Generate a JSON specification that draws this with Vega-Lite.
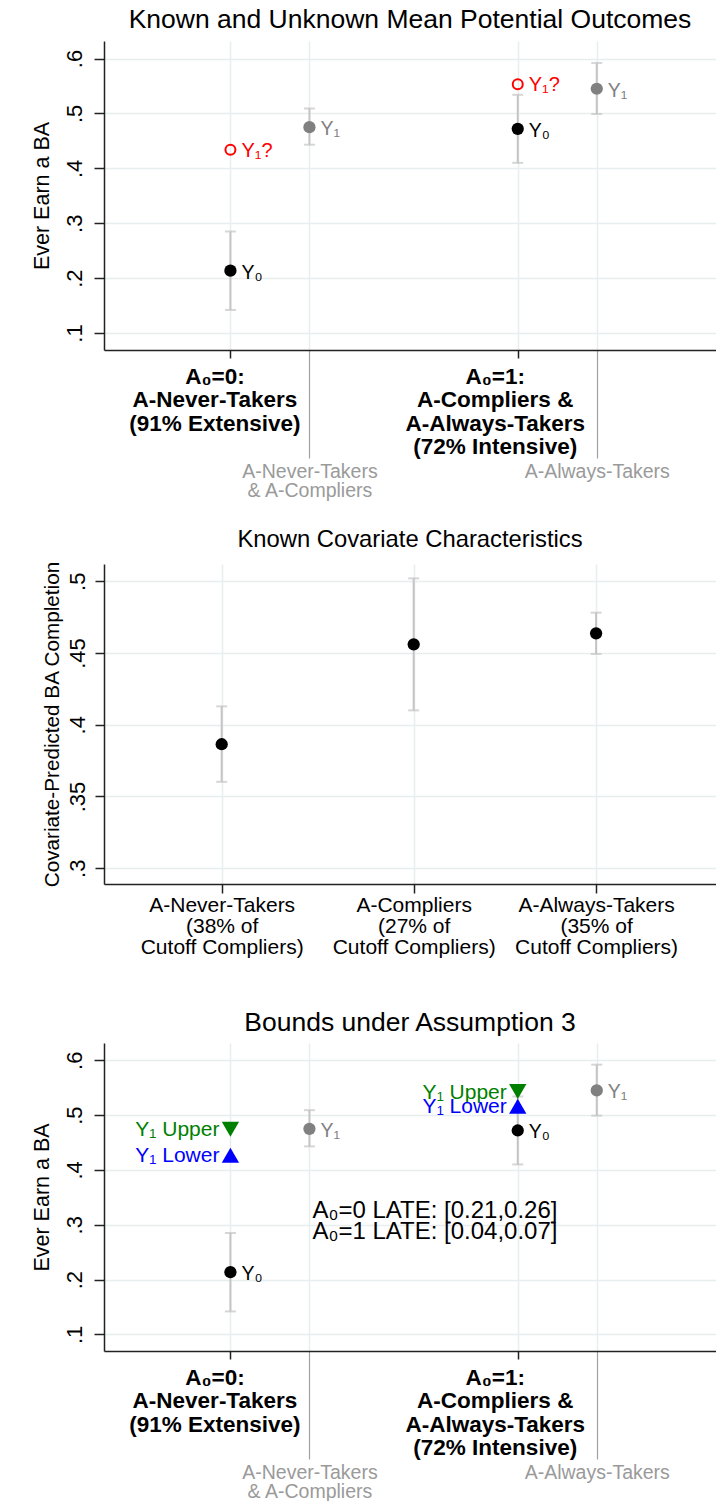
{
  "$schema": "https://vega.github.io/schema/vega-lite/v6.json",
  "background": "white",
  "padding": {"left": 31, "top": 6, "right": 0, "bottom": 0},
  "spacing": 27,
  "config": {
    "font": "Liberation Sans",
    "view": {"stroke": null},
    "axis": {
      "domainColor": "#222222", "domainWidth": 1.5,
      "tickColor": "#222222", "tickWidth": 1.5,
      "gridColor": "#e6eef0", "gridWidth": 1.5,
      "labelFont": "Liberation Sans", "titleFont": "Liberation Sans",
      "labelColor": "#000000", "titleColor": "#000000", "titleFontWeight": "normal",
      "labelOverlap": false, "labelFlush": false
    },
    "axisY": {
      "labelAngle": -90, "labelAlign": "center", "labelBaseline": "alphabetic",
      "labelFontSize": 22, "tickSize": 10, "labelPadding": 13,
      "titleFontSize": 21.5, "titlePadding": 10
    },
    "title": {"font": "Liberation Sans", "fontWeight": "normal", "color": "#000000", "frame": "group", "anchor": "middle", "baseline": "alphabetic"}
  },
  "datasets": {
    "known": [
      {"x": 0, "y": 0.2135, "lo": 0.142, "hi": 0.285, "series": "Y0", "label": "Y₀"},
      {"x": 0.275, "y": 0.475, "lo": 0.443, "hi": 0.509, "series": "Y1", "label": "Y₁"},
      {"x": 1, "y": 0.472, "lo": 0.410, "hi": 0.534, "series": "Y0", "label": "Y₀"},
      {"x": 1.275, "y": 0.545, "lo": 0.499, "hi": 0.592, "series": "Y1", "label": "Y₁"}
    ],
    "unknown": [
      {"x": 0, "y": 0.434, "label": "Y₁?"},
      {"x": 1, "y": 0.553, "label": "Y₁?"}
    ],
    "covariate": [
      {"x": 0, "y": 0.3864, "lo": 0.3602, "hi": 0.4128},
      {"x": 1, "y": 0.456, "lo": 0.410, "hi": 0.502},
      {"x": 1.95, "y": 0.4637, "lo": 0.4493, "hi": 0.4781}
    ],
    "bounds": [
      {"x": 0, "y": 0.474, "series": "Upper", "label": "Y₁ Upper"},
      {"x": 0, "y": 0.427, "series": "Lower", "label": "Y₁ Lower"},
      {"x": 1, "y": 0.543, "series": "Upper", "label": "Y₁ Upper"},
      {"x": 1, "y": 0.516, "series": "Lower", "label": "Y₁ Lower"}
    ],
    "late": [
      {"x": 0.275, "y": 0.325, "text": "A₀=0 LATE: [0.21,0.26]\nA₀=1 LATE: [0.04,0.07]"}
    ]
  },
  "vconcat": [
    {
      "width": 612, "height": 309,
      "title": {"text": "Known and Unknown Mean Potential Outcomes", "fontSize": 26.5, "offset": 8},
      "layer": [
        {
          "data": {"name": "known"},
          "mark": {"type": "errorbar", "ticks": {"size": 11}, "thickness": 2, "color": "#c4c4c4"},
          "encoding": {
            "x": {"field": "x", "type": "quantitative", "title": null, "scale": {"domain": [-0.44, 1.69], "nice": false, "zero": false},
              "axis": {
                "values": [0, 0.275, 1, 1.275], "grid": true, "title": null,
                "labelExpr": "datum.value == 0 ? ['A₀=0:', 'A-Never-Takers', '(91% Extensive)'] : datum.value == 1 ? ['A₀=1:', 'A-Compliers &', 'A-Always-Takers', '(72% Intensive)'] : datum.value < 0.5 ? ['A-Never-Takers', '& A-Compliers'] : ['A-Always-Takers']",
                "tickSize": {"condition": {"test": "datum.value == 0 || datum.value == 1", "value": 8}, "value": 108},
                "tickColor": {"condition": {"test": "datum.value == 0 || datum.value == 1", "value": "#222222"}, "value": "#a0a0a0"},
                "tickWidth": {"condition": {"test": "datum.value == 0 || datum.value == 1", "value": 1.5}, "value": 1.2},
                "labelColor": {"condition": {"test": "datum.value == 0 || datum.value == 1", "value": "#000000"}, "value": "#9a9a9a"},
                "labelFontWeight": {"condition": {"test": "datum.value == 0 || datum.value == 1", "value": "bold"}, "value": "normal"},
                "labelFontSize": {"condition": {"test": "datum.value == 0 || datum.value == 1", "value": 22.5}, "value": 19.5},
                "labelLineHeight": {"expr": "datum.value == 0 || datum.value == 1 ? 23.5 : 19"},
                "labelOffset": {"expr": "datum.value == 0 ? -16 : datum.value == 1 ? -23 : 0"},
                "labelPadding": {"condition": {"test": "datum.value == 0 || datum.value == 1", "value": 7}, "value": 4}
              }},
            "y": {"field": "lo", "type": "quantitative", "title": "Ever Earn a BA", "scale": {"domain": [0.069, 0.632], "nice": false, "zero": false},
              "axis": {"values": [0.1, 0.2, 0.3, 0.4, 0.5, 0.6], "grid": true, "labelExpr": "replace(format(datum.value, '~g'), '0.', '.')"}},
            "y2": {"field": "hi"}
          }
        },
        {
          "data": {"name": "known"},
          "mark": {"type": "point", "filled": true, "size": 150, "opacity": 1},
          "encoding": {
            "x": {"field": "x", "type": "quantitative", "title": null},
            "y": {"field": "y", "type": "quantitative", "title": "Ever Earn a BA"},
            "color": {"field": "series", "type": "nominal", "scale": {"domain": ["Y0", "Y1", "Upper", "Lower"], "range": ["#000000", "#808080", "#008000", "#0000ff"]}, "legend": null}
          }
        },
        {
          "data": {"name": "known"},
          "mark": {"type": "text", "align": "left", "baseline": "middle", "dx": 11, "dy": 2, "fontSize": 19.5},
          "encoding": {
            "x": {"field": "x", "type": "quantitative", "title": null},
            "y": {"field": "y", "type": "quantitative", "title": "Ever Earn a BA"},
            "text": {"field": "label"},
            "color": {"field": "series", "type": "nominal", "scale": {"domain": ["Y0", "Y1", "Upper", "Lower"], "range": ["#000000", "#808080", "#008000", "#0000ff"]}, "legend": null}
          }
        },
        {
          "data": {"name": "unknown"},
          "mark": {"type": "point", "filled": false, "size": 100, "strokeWidth": 2, "color": "#ff0000", "opacity": 1},
          "encoding": {
            "x": {"field": "x", "type": "quantitative", "title": null},
            "y": {"field": "y", "type": "quantitative", "title": "Ever Earn a BA"}
          }
        },
        {
          "data": {"name": "unknown"},
          "mark": {"type": "text", "align": "left", "baseline": "middle", "dx": 11, "dy": 1, "fontSize": 20, "color": "#ff0000"},
          "encoding": {
            "x": {"field": "x", "type": "quantitative", "title": null},
            "y": {"field": "y", "type": "quantitative", "title": "Ever Earn a BA"},
            "text": {"field": "label"}
          }
        }
      ]
    },
    {
      "spacing": 53,
      "vconcat": [
        {
          "width": 612, "height": 320,
          "title": {"text": "Known Covariate Characteristics", "fontSize": 23.8, "offset": 9},
          "layer": [
            {
              "data": {"name": "covariate"},
              "mark": {"type": "errorbar", "ticks": {"size": 11}, "thickness": 2, "color": "#c4c4c4"},
              "encoding": {
                "x": {"field": "x", "type": "quantitative", "title": null, "scale": {"domain": [-0.613, 2.5745], "nice": false, "zero": false},
                  "axis": {
                    "values": [0, 1, 1.95], "grid": true, "title": null,
                    "labelExpr": "datum.value == 0 ? ['A-Never-Takers', '(38% of', 'Cutoff Compliers)'] : datum.value == 1 ? ['A-Compliers', '(27% of', 'Cutoff Compliers)'] : ['A-Always-Takers', '(35% of', 'Cutoff Compliers)']",
                    "tickSize": 9, "labelPadding": 1, "labelFontSize": 21, "labelLineHeight": 21
                  }},
                "y": {"field": "lo", "type": "quantitative", "title": "Covariate-Predicted BA Completion", "scale": {"domain": [0.289, 0.512], "nice": false, "zero": false},
                  "axis": {"values": [0.3, 0.35, 0.4, 0.45, 0.5], "grid": true, "labelExpr": "replace(format(datum.value, '~g'), '0.', '.')", "titlePadding": 4, "titleFontSize": 20.7, "labelPadding": 11, "tickSize": 9}},
                "y2": {"field": "hi"}
              }
            },
            {
              "data": {"name": "covariate"},
              "mark": {"type": "point", "filled": true, "size": 150, "opacity": 1, "color": "#000000"},
              "encoding": {
                "x": {"field": "x", "type": "quantitative", "title": null},
                "y": {"field": "y", "type": "quantitative", "title": "Covariate-Predicted BA Completion"}
              }
            }
          ]
        },
        {
          "width": 612, "height": 308,
          "title": {"text": "Bounds under Assumption 3", "fontSize": 26.5, "offset": 6.5},
          "layer": [
            {
              "data": {"name": "known"},
              "mark": {"type": "errorbar", "ticks": {"size": 11}, "thickness": 2, "color": "#c4c4c4"},
              "encoding": {
                "x": {"field": "x", "type": "quantitative", "title": null, "scale": {"domain": [-0.44, 1.69], "nice": false, "zero": false},
                  "axis": {
                    "values": [0, 0.275, 1, 1.275], "grid": true, "title": null,
                    "labelExpr": "datum.value == 0 ? ['A₀=0:', 'A-Never-Takers', '(91% Extensive)'] : datum.value == 1 ? ['A₀=1:', 'A-Compliers &', 'A-Always-Takers', '(72% Intensive)'] : datum.value < 0.5 ? ['A-Never-Takers', '& A-Compliers'] : ['A-Always-Takers']",
                    "tickSize": {"condition": {"test": "datum.value == 0 || datum.value == 1", "value": 8}, "value": 108},
                    "tickColor": {"condition": {"test": "datum.value == 0 || datum.value == 1", "value": "#222222"}, "value": "#a0a0a0"},
                    "tickWidth": {"condition": {"test": "datum.value == 0 || datum.value == 1", "value": 1.5}, "value": 1.2},
                    "labelColor": {"condition": {"test": "datum.value == 0 || datum.value == 1", "value": "#000000"}, "value": "#9a9a9a"},
                    "labelFontWeight": {"condition": {"test": "datum.value == 0 || datum.value == 1", "value": "bold"}, "value": "normal"},
                    "labelFontSize": {"condition": {"test": "datum.value == 0 || datum.value == 1", "value": 22.5}, "value": 19.5},
                    "labelLineHeight": {"expr": "datum.value == 0 || datum.value == 1 ? 23.5 : 19"},
                    "labelOffset": {"expr": "datum.value == 0 ? -16 : datum.value == 1 ? -23 : 0"},
                    "labelPadding": {"condition": {"test": "datum.value == 0 || datum.value == 1", "value": 7}, "value": 4}
                  }},
                "y": {"field": "lo", "type": "quantitative", "title": "Ever Earn a BA", "scale": {"domain": [0.0698, 0.6315], "nice": false, "zero": false},
                  "axis": {"values": [0.1, 0.2, 0.3, 0.4, 0.5, 0.6], "grid": true, "labelExpr": "replace(format(datum.value, '~g'), '0.', '.')"}},
                "y2": {"field": "hi"}
              }
            },
            {
              "data": {"name": "known"},
              "mark": {"type": "point", "filled": true, "size": 150, "opacity": 1},
              "encoding": {
                "x": {"field": "x", "type": "quantitative", "title": null},
                "y": {"field": "y", "type": "quantitative", "title": "Ever Earn a BA"},
                "color": {"field": "series", "type": "nominal", "scale": {"domain": ["Y0", "Y1", "Upper", "Lower"], "range": ["#000000", "#808080", "#008000", "#0000ff"]}, "legend": null}
              }
            },
            {
              "data": {"name": "known"},
              "mark": {"type": "text", "align": "left", "baseline": "middle", "dx": 11, "dy": 2, "fontSize": 19.5},
              "encoding": {
                "x": {"field": "x", "type": "quantitative", "title": null},
                "y": {"field": "y", "type": "quantitative", "title": "Ever Earn a BA"},
                "text": {"field": "label"},
                "color": {"field": "series", "type": "nominal", "scale": {"domain": ["Y0", "Y1", "Upper", "Lower"], "range": ["#000000", "#808080", "#008000", "#0000ff"]}, "legend": null}
              }
            },
            {
              "data": {"name": "bounds"},
              "mark": {"type": "point", "filled": true, "size": 300, "opacity": 1},
              "encoding": {
                "x": {"field": "x", "type": "quantitative", "title": null},
                "y": {"field": "y", "type": "quantitative", "title": "Ever Earn a BA"},
                "shape": {"field": "series", "type": "nominal", "scale": {"domain": ["Upper", "Lower"], "range": ["triangle-down", "triangle-up"]}, "legend": null},
                "color": {"field": "series", "type": "nominal", "scale": {"domain": ["Y0", "Y1", "Upper", "Lower"], "range": ["#000000", "#808080", "#008000", "#0000ff"]}, "legend": null}
              }
            },
            {
              "data": {"name": "bounds"},
              "mark": {"type": "text", "align": "right", "baseline": "middle", "dx": -11, "dy": 1, "fontSize": 21},
              "encoding": {
                "x": {"field": "x", "type": "quantitative", "title": null},
                "y": {"field": "y", "type": "quantitative", "title": "Ever Earn a BA"},
                "text": {"field": "label"},
                "color": {"field": "series", "type": "nominal", "scale": {"domain": ["Y0", "Y1", "Upper", "Lower"], "range": ["#000000", "#808080", "#008000", "#0000ff"]}, "legend": null}
              }
            },
            {
              "data": {"name": "late"},
              "mark": {"type": "text", "align": "left", "baseline": "middle", "dx": 3, "fontSize": 24, "lineBreak": "\n", "lineHeight": 21, "color": "#000000"},
              "encoding": {
                "x": {"field": "x", "type": "quantitative", "title": null},
                "y": {"field": "y", "type": "quantitative", "title": "Ever Earn a BA"},
                "text": {"field": "text"}
              }
            }
          ]
        }
      ]
    }
  ]
}
